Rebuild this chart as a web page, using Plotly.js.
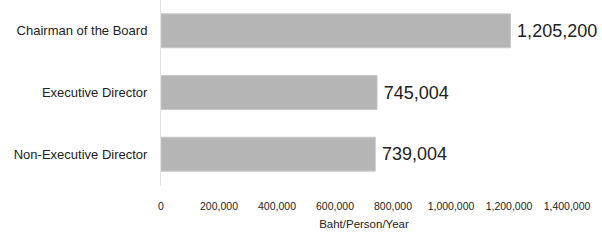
<!DOCTYPE html>
<html><head><meta charset="utf-8">
<script src="https://cdn.plot.ly/plotly-3.0.1.min.js"></script>
<style>body{margin:0;background:#fff}#c{width:602px;height:247px}</style>
</head><body><div id="c"></div>
<script>
const categories = ["Chairman of the Board", "Executive Director", "Non-Executive Director"];
const values = [1205200, 745004, 739004];
const valueLabels = ["1,205,200", "745,004", "739,004"];
const tickVals = [0, 200000, 400000, 600000, 800000, 1000000, 1200000, 1400000];
const tickText = ["0", "200,000", "400,000", "600,000", "800,000", "1,000,000", "1,200,000", "1,400,000"];
const F = "'Liberation Sans Narrow', 'Arial Narrow', 'Liberation Sans', sans-serif";
Plotly.newPlot('c', [{
  type: 'bar', orientation: 'h',
  x: values, y: categories,
  marker: {color: '#b5b5b5', line: {color: '#c8c8c8', width: 1}},
  width: 0.55,
  text: valueLabels.map(s => '\u2009' + s), textposition: 'outside', cliponaxis: false,
  textfont: {family: F, size: 18, color: '#222'},
  hoverinfo: 'none'
}], {
  width: 602, height: 247,
  margin: {l: 161, r: 35, t: 0, b: 62},
  paper_bgcolor: '#fff', plot_bgcolor: '#fff',
  showlegend: false,
  xaxis: {range: [0, 1400000], tickvals: tickVals, ticktext: tickText,
    showgrid: false, zeroline: false, showline: false, ticks: '', ticklabelstandoff: 13,
    tickfont: {family: F, size: 10.5, color: '#222'},
    title: {text: 'Baht/Person/Year', font: {family: F, size: 11.5, color: '#222'}, standoff: 9}},
  yaxis: {autorange: false, range: [2.5, -0.5], showgrid: false, zeroline: false,
    showline: true, linecolor: '#e2e2e2', linewidth: 1, ticks: '', ticklabelstandoff: 10,
    tickfont: {family: F, size: 13, color: '#222'}}
}, {staticPlot: true});
</script></body></html>
